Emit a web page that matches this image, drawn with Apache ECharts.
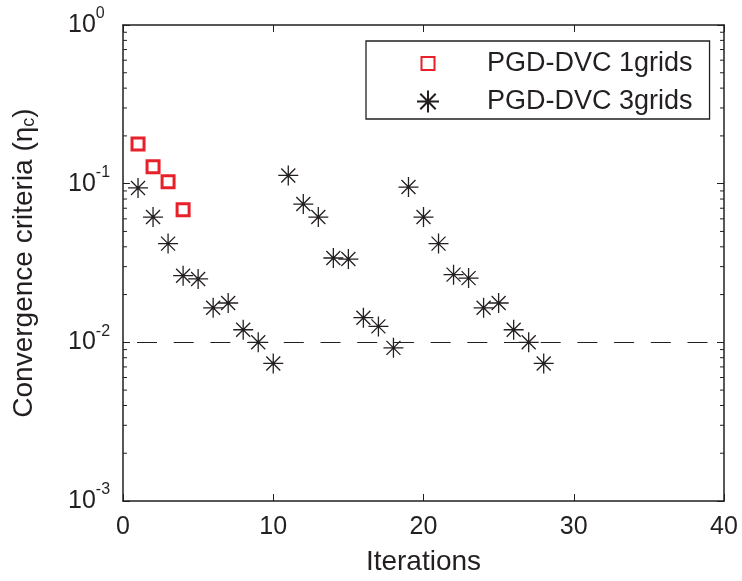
<!DOCTYPE html>
<html>
<head>
<meta charset="utf-8">
<script src="https://cdn.jsdelivr.net/npm/echarts@6/dist/echarts.min.js"></script>
<style>html,body{margin:0;padding:0;background:#fff}#c{width:742px;height:581px}</style>
</head>
<body>
<div id="c"></div>
<script>
// ---- data ----
const grid1Iter = [1, 2, 3, 4];
const grid1Eta = [0.178, 0.128, 0.103, 0.0685];
const grid3Iter = [1,2,3,4,5,6,7,8,9,10,11,12,13,14,15,16,17,18,19,20,21,22,23,24,25,26,27,28];
const grid3Eta = [0.094,0.0616,0.0419,0.0263,0.0251,0.0165,0.0177,0.0120,0.0100,0.00736,
                  0.1127,0.0744,0.0616,0.0340,0.0335,0.0143,0.0126,0.00923,
                  0.0952,0.0616,0.0419,0.0267,0.0254,0.0165,0.0177,0.0120,0.0100,0.00736];
const threshold = 0.01;
const xTicks = [0, 10, 20, 30, 40];
const minorTickValues = [0.002,0.003,0.004,0.005,0.006,0.007,0.008,0.009,
                         0.02,0.03,0.04,0.05,0.06,0.07,0.08,0.09,
                         0.2,0.3,0.4,0.5,0.6,0.7,0.8,0.9];
const seriesNames = ['PGD-DVC 1grids', 'PGD-DVC 3grids'];

// ---- chart ----
const FONT = "'Liberation Sans', Arial, Helvetica, sans-serif";
const INK = '#231f20';
const RED = '#e8202a';
const STAR = 'path://M0,-10L0,10M-10,0L10,0M-7,-7L7,7M-7,7L7,-7';
const SQUARE_ICON = 'path://M-11,-11M11,11M-6.5,-6.5L6.5,-6.5L6.5,6.5L-6.5,6.5Z';
const SQUARE = 'path://M0,0L10,0L10,10L0,10Z';

const chart = echarts.init(document.getElementById('c'), null, {renderer: 'canvas'});
const supRich = {
  s: {fontSize: 16, lineHeight: 16, verticalAlign: 'top', color: INK, fontFamily: FONT}
};
const option = {
  animation: false,
  backgroundColor: '#fff',
  textStyle: {fontFamily: FONT, color: INK},
  grid: {left: 123, right: 18, top: 25, bottom: 79, containLabel: false},
  legend: {
    left: 366, top: 41,
    orient: 'vertical',
    selectedMode: false,
    borderColor: INK, borderWidth: 1.3,
    padding: [9, 17, 4, 50],
    itemWidth: 108, itemHeight: 22, itemGap: 11,
    textStyle: {fontSize: 27, lineHeight: 26, color: INK, fontFamily: FONT},
    data: [
      {name: seriesNames[0], icon: SQUARE_ICON},
      {name: seriesNames[1], icon: STAR}
    ]
  },
  xAxis: [{
    type: 'value', min: xTicks[0], max: xTicks[xTicks.length - 1], interval: 10,
    position: 'bottom',
    name: 'Iterations', nameLocation: 'middle', nameGap: 47,
    nameTextStyle: {fontSize: 28, lineHeight: 28, color: INK, fontFamily: FONT},
    axisLine: {show: true, onZero: false, lineStyle: {color: INK, width: 1.5}},
    axisTick: {show: true, inside: true, length: 7, lineStyle: {color: INK, width: 1}},
    axisLabel: {fontSize: 25, lineHeight: 25, margin: 14, color: INK, fontFamily: FONT},
    splitLine: {show: false}
  }, {
    type: 'value', min: xTicks[0], max: xTicks[xTicks.length - 1], interval: 10,
    position: 'top',
    axisLine: {show: true, onZero: false, lineStyle: {color: INK, width: 1.5}},
    axisTick: {show: true, inside: true, length: 7, lineStyle: {color: INK, width: 1}},
    axisLabel: {show: false},
    splitLine: {show: false}
  }],
  yAxis: [{
    type: 'log', logBase: 10, min: 0.001, max: 1,
    position: 'left',
    name: 'Convergence criteria (η{sub|c})', nameLocation: 'middle', nameGap: 85,
    nameTextStyle: {
      fontSize: 28, lineHeight: 28, color: INK, fontFamily: FONT,
      rich: {sub: {fontSize: 18, lineHeight: 18, verticalAlign: 'bottom', color: INK, fontFamily: FONT}}
    },
    axisLine: {show: true, onZero: false, lineStyle: {color: INK, width: 1.5}},
    axisTick: {show: true, inside: true, length: 7, lineStyle: {color: INK, width: 1}},
    axisLabel: {
      fontSize: 25, lineHeight: 38, margin: 55, align: 'left', color: INK, fontFamily: FONT,
      formatter: function (v) {
        const e = Math.round(Math.log10(v));
        return '10{s|' + e + '}';
      },
      rich: supRich
    },
    splitLine: {show: false}
  }, {
    type: 'log', logBase: 10, min: 0.001, max: 1,
    position: 'right',
    axisLine: {show: true, onZero: false, lineStyle: {color: INK, width: 1.5}},
    axisTick: {show: true, inside: true, length: 7, lineStyle: {color: INK, width: 1}},
    axisLabel: {show: false},
    splitLine: {show: false}
  }],
  series: [
    {
      type: 'custom',
      name: 'minorTicks',
      xAxisIndex: 0, yAxisIndex: 0,
      silent: true,
      clip: false,
      encode: {x: 0, y: 1},
      data: minorTickValues.map(v => [xTicks[0], v]),
      renderItem: function (params, api) {
        const v = api.value(1);
        const l = api.coord([xTicks[0], v]);
        const r = api.coord([xTicks[xTicks.length - 1], v]);
        const st = {stroke: INK, lineWidth: 1};
        return {type: 'group', children: [
          {type: 'line', shape: {x1: l[0], y1: l[1], x2: l[0] + 4, y2: l[1]}, style: st},
          {type: 'line', shape: {x1: r[0], y1: r[1], x2: r[0] - 4, y2: r[1]}, style: st}
        ]};
      },
      z: 3
    },
    {
      type: 'scatter',
      name: seriesNames[1],
      xAxisIndex: 0, yAxisIndex: 0,
      symbol: STAR, symbolSize: 20,
      itemStyle: {color: 'rgba(0,0,0,0)', borderColor: INK, borderWidth: 1.3, opacity: 1},
      data: grid3Iter.map((x, i) => [x, grid3Eta[i]]),
      markLine: {
        silent: true, symbol: 'none', animation: false,
        label: {show: false},
        lineStyle: {color: INK, width: 1.2, type: [20, 16.7], dashOffset: 22.7},
        emphasis: {disabled: true},
        data: [{yAxis: threshold}]
      },
      z: 4
    },
    {
      type: 'scatter',
      name: seriesNames[0],
      xAxisIndex: 0, yAxisIndex: 0,
      symbol: SQUARE, symbolSize: 12,
      itemStyle: {color: 'rgba(255,255,255,0)', borderColor: RED, borderWidth: 3, opacity: 1},
      data: grid1Iter.map((x, i) => [x, grid1Eta[i]]),
      z: 5
    }
  ]
};
chart.setOption(option);
</script>
</body>
</html>
